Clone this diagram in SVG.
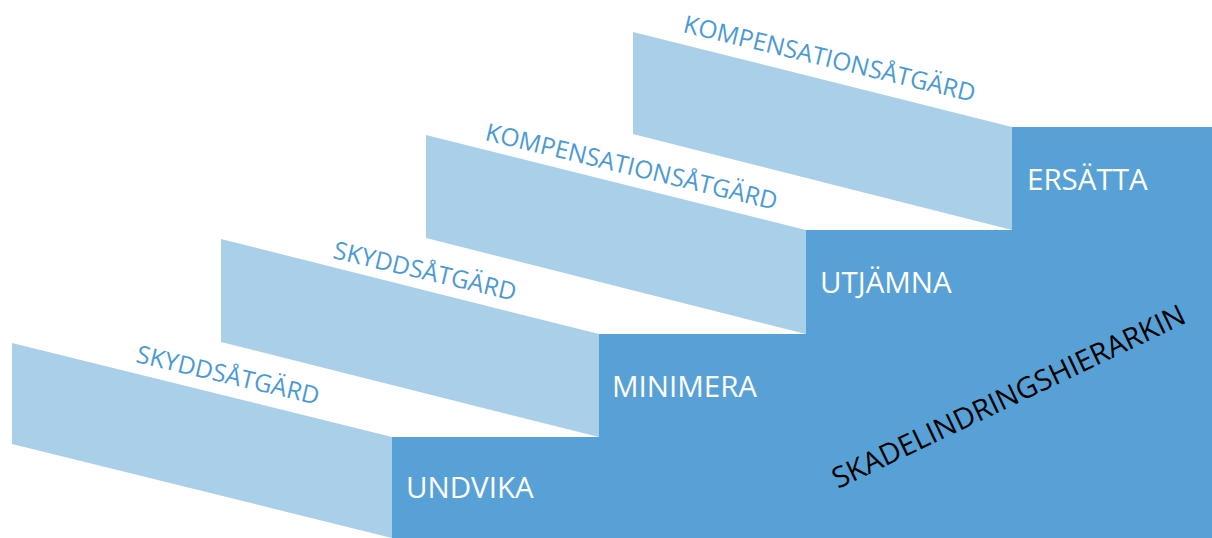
<svg xmlns="http://www.w3.org/2000/svg" width="1212" height="538" viewBox="0 0 1212 538">
<style>
.light{fill:#AACFE8}
.dark{fill:#58A1D6}
.lbl{font-family:"Open Sans","Liberation Sans",sans-serif;font-size:24.6px;fill:#4B9AD3}
.step{font-family:"Open Sans","Liberation Sans",sans-serif;font-size:29.5px;fill:#FFFFFF}
.title{font-family:"Open Sans","Liberation Sans",sans-serif;font-size:29px;fill:#000000}
</style>
<rect width="1212" height="538" fill="#FFFFFF"/>
<g id="stair-faces">
<polygon class="light" points="12,343 392,437 392,538 12,444"/>
<polygon class="light" points="221,239 599,334 599,437 221,342"/>
<polygon class="light" points="426,135 806,230 806,334 426,238"/>
<polygon class="light" points="633,32 1012,127 1012,230 633,134"/>
</g>
<g id="stair-body">
<polygon class="dark" points="392,437 599,437 599,334 806,334 806,230 1012,230 1012,127 1212,127 1212,538 392,538"/>
</g>
<g id="undvika"><text class="step" x="406" y="498">UNDVIKA</text></g>
<g id="minimera"><text class="step" x="612" y="397">MINIMERA</text></g>
<g id="utjamna"><text class="step" x="820" y="293">UTJÄMNA</text></g>
<g id="ersatta"><text class="step" x="1027" y="190">ERSÄTTA</text></g>
<g id="label1"><text class="lbl" transform="translate(135,362) rotate(13.2)">SKYDDSÅTGÄRD</text></g>
<g id="label2"><text class="lbl" transform="translate(332,258) rotate(13.2)">SKYDDSÅTGÄRD</text></g>
<g id="label3"><text class="lbl" transform="translate(484,140) rotate(13.5)">KOMPENSATIONSÅTGÄRD</text></g>
<g id="label4"><text class="lbl" transform="translate(682,32) rotate(13.5)">KOMPENSATIONSÅTGÄRD</text></g>
<g id="title"><text class="title" transform="translate(838,489) rotate(-25.5)">SKADELINDRINGSHIERARKIN</text></g>
</svg>
